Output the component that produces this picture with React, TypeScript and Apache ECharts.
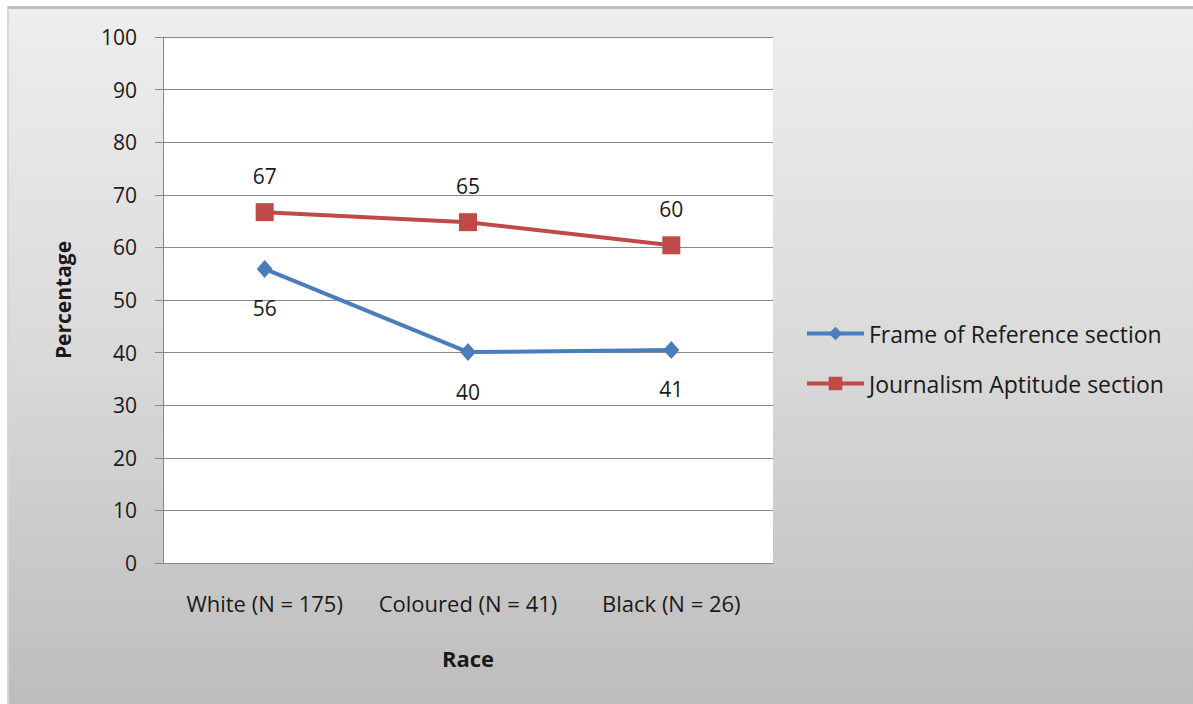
import React, { useEffect, useRef } from "react";
import * as echarts from "echarts";

const categories = ["White (N = 175)", "Coloured (N = 41)", "Black (N = 26)"];
const frameOfReference = [55.9, 40.1, 40.5];
const journalismAptitude = [66.7, 64.8, 60.4];
const seriesNames = ["Frame of Reference section", "Journalism Aptitude section"];

const FONT = "Open Sans";

export default function App() {
  const ref = useRef<HTMLDivElement>(null);
  useEffect(() => {
    document.body.style.margin = "0";
    const chart = echarts.init(ref.current!, null, { renderer: "svg" });
    chart.setOption({
      animation: false,
      backgroundColor: "transparent",
      textStyle: { fontFamily: FONT },
      grid: {
        left: 163,
        top: 37,
        right: 420,
        bottom: 141,
        show: true,
        backgroundColor: "#ffffff",
        borderWidth: 0,
      },
      legend: {
        orient: "vertical",
        left: 800,
        top: 317,
        itemWidth: 57,
        itemHeight: 17,
        itemGap: 27,
        lineStyle: { width: 4 },
        textStyle: { fontFamily: FONT, fontSize: 23, color: "#1a1a1a" },
        data: seriesNames,
      },
      xAxis: {
        type: "category",
        data: categories,
        boundaryGap: true,
        axisLine: { show: true, lineStyle: { color: "#888888", width: 1 } },
        axisTick: { show: false },
        axisLabel: { fontFamily: FONT, fontSize: 22, color: "#1a1a1a", margin: 29, interval: 0 },
        name: "Race",
        nameLocation: "middle",
        nameGap: 84,
        nameTextStyle: { fontFamily: FONT, fontSize: 22, fontWeight: "bold", color: "#1a1a1a" },
      },
      yAxis: {
        type: "value",
        min: 0,
        max: 100,
        interval: 10,
        axisLine: { show: true, lineStyle: { color: "#888888", width: 1 } },
        axisTick: { show: true, length: 8, lineStyle: { color: "#888888" } },
        splitLine: { show: true, lineStyle: { color: "#888888", width: 1 } },
        axisLabel: { fontFamily: FONT, fontSize: 21, color: "#1a1a1a", margin: 26 },
        name: "Percentage",
        nameLocation: "middle",
        nameGap: 90,
        nameTextStyle: { fontFamily: FONT, fontSize: 21, fontWeight: "bold", color: "#1a1a1a" },
      },
      series: [
        {
          name: seriesNames[0],
          type: "line",
          data: frameOfReference,
          symbol: "diamond",
          symbolSize: [16, 18],
          lineStyle: { color: "#4a7ebb", width: 4 },
          itemStyle: { color: "#4a7ebb" },
          label: {
            show: true,
            position: "bottom",
            distance: 20,
            fontFamily: FONT,
            fontSize: 21,
            color: "#1a1a1a",
            formatter: (p: any) => String(Math.round(p.value)),
          },
        },
        {
          name: seriesNames[1],
          type: "line",
          data: journalismAptitude,
          symbol: "rect",
          symbolSize: 18,
          lineStyle: { color: "#be4b48", width: 4 },
          itemStyle: { color: "#be4b48" },
          label: {
            show: true,
            position: "top",
            distance: 17,
            fontFamily: FONT,
            fontSize: 21,
            color: "#1a1a1a",
            formatter: (p: any) => String(Math.round(p.value)),
          },
        },
      ],
    });
    return () => chart.dispose();
  }, []);

  return (
    <div style={{ position: "absolute", left: 0, top: 0, width: 1193, height: 704, overflow: "hidden", background: "#ffffff" }}>
      <div
        style={{
          position: "absolute",
          left: 7,
          top: 6,
          width: 1200,
          height: 710,
          boxSizing: "border-box",
          borderTop: "3px solid #bdbdbd",
          borderLeft: "2px solid #d6d6d6",
          background: "linear-gradient(to bottom, #eeeeee 0%, #d9d9d9 50%, #bcbcbc 100%)",
        }}
      />
      <div ref={ref} style={{ position: "absolute", left: 0, top: 0, width: 1193, height: 704 }} />
    </div>
  );
}
